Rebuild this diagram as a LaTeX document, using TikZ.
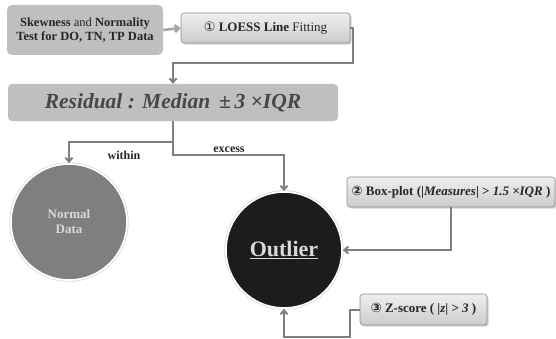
\documentclass[tikz,border=0pt]{standalone}
\usepackage{fontspec}
\setmainfont{Liberation Serif}
\newfontfamily\symfont{DejaVu Sans}
\usetikzlibrary{arrows.meta,calc,positioning,shadows}
\definecolor{ink}{HTML}{262626}
\definecolor{wire}{HTML}{7F7F7F}
\definecolor{paleline}{HTML}{A6A6A6}
\definecolor{slab}{HTML}{BFBFBF}
\definecolor{steptop}{HTML}{EFEFEF}
\definecolor{stepbot}{HTML}{CCCCCC}
\definecolor{stepedge}{HTML}{8C8C8C}
\definecolor{normalfill}{HTML}{7F7F7F}
\definecolor{outlierfill}{HTML}{1C1C1C}
\definecolor{pale}{HTML}{D9D9D9}
\newcommand{\cnum}[1]{{\symfont #1}}
\tikzset{
  every node/.style={text=ink},
  slabbox/.style={fill=slab, rounded corners=5pt, align=center, inner sep=3pt},
  stepbox/.style={draw=stepedge, line width=.6pt, rounded corners=3pt,
    top color=steptop, bottom color=stepbot, inner sep=2pt,
    drop shadow={shadow xshift=1.6pt, shadow yshift=-1.6pt, opacity=.35},
    font=\fontsize{13}{15}\selectfont},
  result/.style={circle, draw=white, line width=1.6pt, inner sep=0pt,
    minimum size=116pt, align=center,
    drop shadow={shadow xshift=0pt, shadow yshift=0pt, shadow scale=1.03,
      opacity=.25}},
  flow/.style={-{Straight Barb[length=4pt,width=7pt]}, draw=wire,
    line width=2pt},
  feed/.style={flow, draw=paleline, line width=2.6pt},
  branchlabel/.style={font=\fontsize{12}{14}\selectfont\bfseries}
}

\begin{document}
\begin{tikzpicture}[x=1pt,y=1pt]
\useasboundingbox (0,0) rectangle (556,338);

% Preparation: normality test, then the LOESS fit.
\node[slabbox, minimum width=156pt, minimum height=50pt,
  font=\fontsize{12.5}{13.5}\selectfont] (skew) at (85,308)
  {\textbf{Skewness} and \textbf{Normality}\\\textbf{Test for DO, TN, TP Data}};
\node[stepbox, minimum width=169pt, minimum height=30pt] (loess) at (265.5,310)
  {\cnum{①} \textbf{LOESS Line} Fitting};

% Residual rule and its two outcomes.
\node[slabbox, rounded corners=4pt, minimum width=330pt, minimum height=37pt,
  font=\fontsize{21.5}{24}\selectfont\bfseries\itshape, text=ink!85] (residual)
  at (173,235.5) {Residual : Median \,±\,3 ×IQR};

\node[result, fill=normalfill, text=pale,
  font=\fontsize{13}{15}\selectfont\bfseries] (normal) at (69,116)
  {Normal\\Data};
\node[result, fill=outlierfill, text=pale,
  font=\fontsize{22}{25}\selectfont\bfseries] (outlier) at (284,88)
  {\underline{Outlier}};

% Further checks feeding the outlier set.
\node[stepbox, minimum width=208pt, minimum height=30pt] (boxplot) at (451,146)
  {\textbf{\cnum{②} Box-plot (|\textit{Measures}| > \textit{1.5 ×IQR} )}};
\node[stepbox, minimum width=127pt, minimum height=31pt] (zscore) at (423.5,28.5)
  {\textbf{\cnum{③} Z-score ( |\textit{z}| > \textit{3} )}};

\draw[feed] (skew.east) -- (loess.west);
\draw[flow] (loess.east) -- ++(3,0) |- ([yshift=21pt]residual.north)
  -- (residual.north);

\draw[flow] (residual.south) -- ++(0,-34) -| (outlier.north);
\draw[flow] ([yshift=-21pt]residual.south) -| (normal.north);
\node[branchlabel] (within) at (124,183) {within};
\node[branchlabel] (excess) at (229,188) {excess};

\draw[flow] (boxplot.south) |- (outlier.east);
\draw[flow] (zscore.west) -- ++(-10,0) |- ([yshift=-28pt]outlier.south)
  -- (outlier.south);

\end{tikzpicture}
\end{document}
